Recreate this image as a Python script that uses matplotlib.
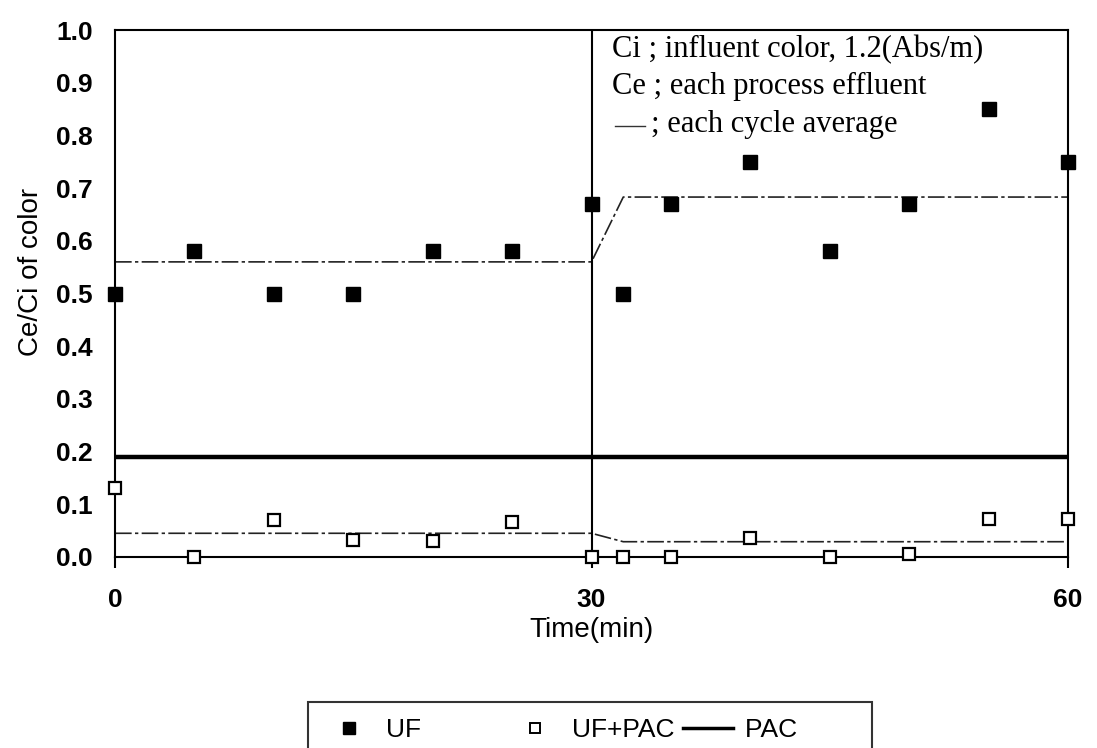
import matplotlib.pyplot as plt
from matplotlib.lines import Line2D

# data
time = [0, 5, 10, 15, 20, 25, 30, 32, 35, 40, 45, 50, 55, 60]
uf = [0.50, 0.58, 0.50, 0.50, 0.58, 0.58, 0.67, 0.50, 0.67, 0.75, 0.58, 0.67, 0.85, 0.75]
uf_pac = [0.13, 0.0, 0.07, 0.032, 0.03, 0.067, 0.0, 0.0, 0.0, 0.036, 0.0, 0.005, 0.072, 0.072]

avg_time = [0, 30, 32, 60]
uf_avg = [0.56, 0.56, 0.683, 0.683]
uf_pac_avg = [0.045, 0.045, 0.029, 0.029]

pac_time = [0, 60]
pac = [0.19, 0.19]

SANS = "Liberation Sans"
SERIF = "Liberation Serif"

fig = plt.figure(figsize=(10.97, 7.48), dpi=100)
ax = fig.add_axes([115 / 1097, 1 - 557 / 748, (1068 - 115) / 1097, (557 - 30) / 748])

ax.plot(pac_time, pac, color="black", lw=3.2, solid_capstyle="butt")
ax.plot(avg_time, uf_avg, color="#222222", lw=1.2, ls=(0, (10, 2, 2, 2)))
ax.plot(avg_time, uf_pac_avg, color="#222222", lw=1.2, ls=(0, (10, 2, 2, 2)))
ax.axvline(30, color="black", lw=1.5)

ax.plot(time, uf, ls="none", marker="s", ms=10.5, color="black", clip_on=False, zorder=5)
ax.plot(time, uf_pac, ls="none", marker="s", ms=9, mfc="white", mec="black",
        mew=1.6, clip_on=False, zorder=5)

ax.set_xlim(0, 60)
ax.set_ylim(0, 1.0)
ax.set_xticks([0, 30, 60])
ax.set_yticks([i / 10 for i in range(11)])
ax.set_yticklabels([f"{i / 10:.1f}" for i in range(11)])
for s in ax.spines.values():
    s.set_linewidth(1.5)
ax.tick_params(axis="x", direction="out", length=8, width=1.5, pad=14)
ax.tick_params(axis="y", length=0, pad=16)
for lab in ax.get_xticklabels() + ax.get_yticklabels():
    lab.set_fontfamily(SANS)
    lab.set_fontweight("bold")
    lab.set_fontsize(19)

ax.set_xlabel("Time(min)", fontfamily=SANS, fontsize=20, labelpad=4)
ax.set_ylabel("Ce/Ci of color", fontfamily=SANS, fontsize=20)
ax.yaxis.set_label_coords(-0.074, 0.54)

note = dict(fontfamily=SERIF, fontsize=22, transform=ax.transAxes, va="center")
ax.text(0.521, 0.962, "Ci ; influent color, 1.2(Abs/m)", **note)
ax.text(0.521, 0.892, "Ce ; each process effluent", **note)
ax.text(0.562, 0.820, "; each cycle average", **note)
ax.plot([0.525, 0.556], [0.818, 0.818], transform=ax.transAxes, color="#333333", lw=1.0)

handles = [
    Line2D([], [], ls="none", marker="s", ms=8, color="black"),
    Line2D([], [], ls="none", marker="s", ms=7.5, mfc="white", mec="black", mew=1.4),
    Line2D([], [], color="black", lw=2.5),
]
leg = fig.legend(handles, ["UF           ", "UF+PAC", "PAC        "], loc="upper center",
                 bbox_to_anchor=(590 / 1097, 1 - 702 / 748), ncol=3, borderaxespad=0,
                 frameon=True, fancybox=False, edgecolor="black",
                 prop={"family": SANS, "size": 19}, columnspacing=0.3,
                 handlelength=1.9, handletextpad=0.45, borderpad=0.6)
leg.get_frame().set_linewidth(1.5)

fig.savefig("out.png", dpi=100)
